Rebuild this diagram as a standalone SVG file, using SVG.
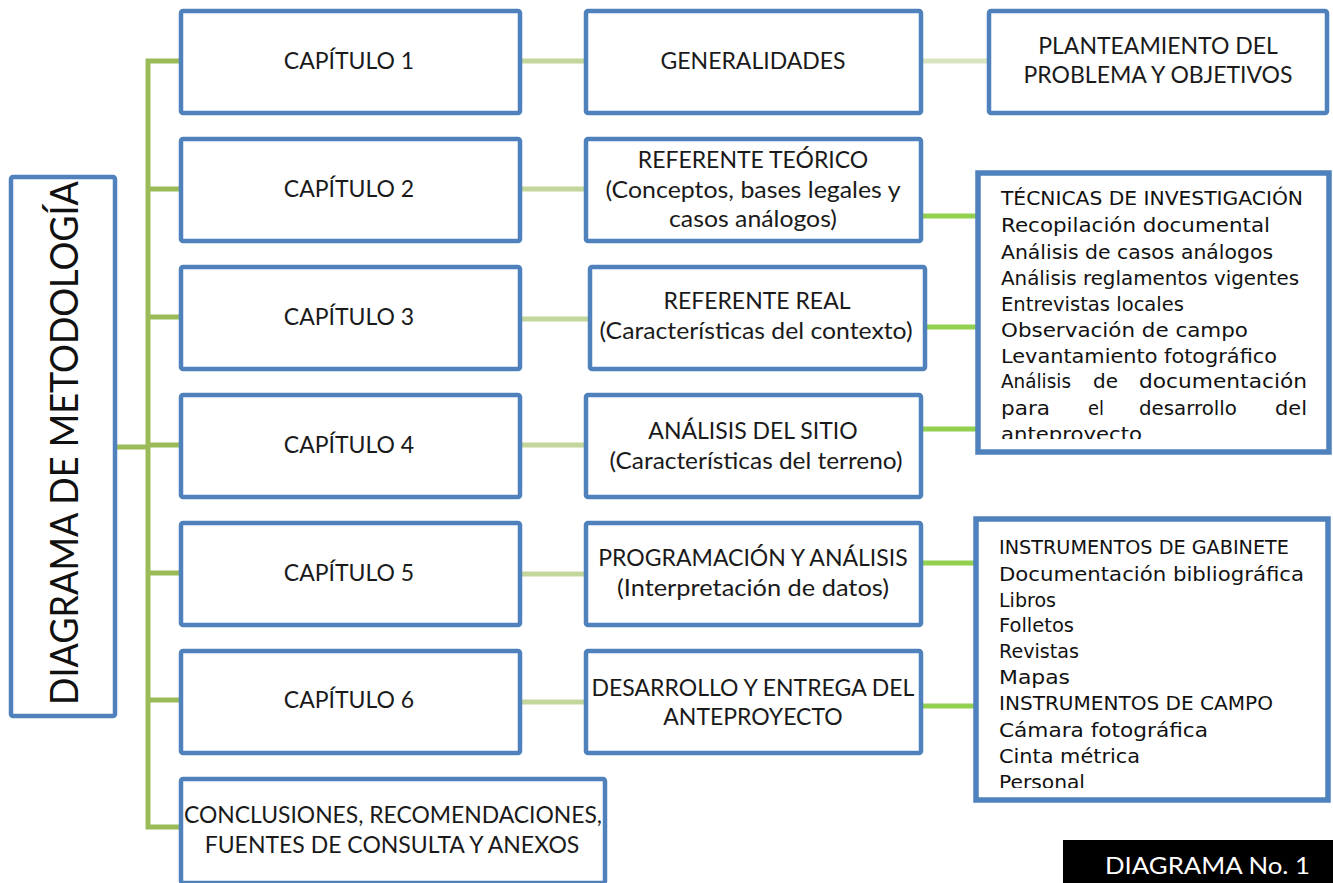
<svg xmlns="http://www.w3.org/2000/svg" width="1333" height="883" viewBox="0 0 1333 883">
<defs>
<style>
.box{fill:#fff;stroke:#4F81BD;stroke-width:4.5}
.tbox{fill:#fff;stroke:#4F81BD;stroke-width:5.5}
.t{font-family:Lato,"Liberation Sans",sans-serif;font-size:23px;fill:#1a1a1a;text-anchor:middle}
.g{font-family:"DejaVu Sans","Liberation Sans",sans-serif;font-size:19px;fill:#111}
.c{font-family:"DejaVu Sans","Liberation Sans",sans-serif;font-size:20px;fill:#111}
.spine{stroke:#9BBB59;stroke-width:5;fill:none}
.lg{stroke:#C3D69B;stroke-width:5}
.lg2{stroke:#D7E4BD;stroke-width:5}
.bg{stroke:#92D050;stroke-width:5}
</style>
<clipPath id="c1"><rect x="980" y="175" width="348" height="264"/></clipPath>
<clipPath id="c2"><rect x="978" y="521" width="348" height="267"/></clipPath>
</defs>
<rect width="1333" height="883" fill="#fff"/>
<g id="connectors">
<path class="spine" d="M180 61H148V827H180"/>
<line class="spine" x1="148" y1="189" x2="180" y2="189"/>
<line class="spine" x1="148" y1="317" x2="180" y2="317"/>
<line class="spine" x1="148" y1="445" x2="180" y2="445"/>
<line class="spine" x1="148" y1="573" x2="180" y2="573"/>
<line class="spine" x1="148" y1="700" x2="180" y2="700"/>
<line class="spine" x1="116" y1="447" x2="148" y2="447"/>
<line class="lg" x1="520" y1="61" x2="585" y2="61"/>
<line class="lg" x1="520" y1="189" x2="585" y2="189"/>
<line class="lg" x1="520" y1="319" x2="589" y2="319"/>
<line class="lg" x1="520" y1="445" x2="585" y2="445"/>
<line class="lg" x1="520" y1="574" x2="585" y2="574"/>
<line class="lg" x1="520" y1="702" x2="585" y2="702"/>
<line class="lg2" x1="922" y1="61" x2="988" y2="61"/>
<line class="bg" x1="921" y1="216" x2="978" y2="216"/>
<line class="bg" x1="925" y1="327" x2="978" y2="327"/>
<line class="bg" x1="921" y1="429" x2="978" y2="429"/>
<line class="bg" x1="921" y1="563" x2="976" y2="563"/>
<line class="bg" x1="919" y1="706" x2="976" y2="706"/>
</g>
<g id="main">
<rect class="box" x="11" y="177" width="104" height="539" rx="2"/>
<text transform="translate(78,443) rotate(-90)" style="font-family:Lato,'Liberation Sans',sans-serif;font-size:38px;fill:#111;text-anchor:middle" textLength="524" lengthAdjust="spacingAndGlyphs">DIAGRAMA  DE METODOLOGÍA</text>
</g>
<g id="cap1"><rect class="box" x="181" y="11" width="339" height="102" rx="2"/><text class="t" x="349" y="69">CAPÍTULO 1</text></g>
<g id="cap2"><rect class="box" x="181" y="139" width="339" height="102" rx="2"/><text class="t" x="349" y="197">CAPÍTULO 2</text></g>
<g id="cap3"><rect class="box" x="181" y="267" width="339" height="102" rx="2"/><text class="t" x="349" y="325">CAPÍTULO 3</text></g>
<g id="cap4"><rect class="box" x="181" y="395" width="339" height="102" rx="2"/><text class="t" x="349" y="453">CAPÍTULO 4</text></g>
<g id="cap5"><rect class="box" x="181" y="523" width="339" height="102" rx="2"/><text class="t" x="349" y="581">CAPÍTULO 5</text></g>
<g id="cap6"><rect class="box" x="181" y="651" width="339" height="102" rx="2"/><text class="t" x="349" y="708">CAPÍTULO 6</text></g>
<g id="conclusiones"><rect class="box" x="181" y="779" width="424" height="104" rx="2"/><text class="t" x="393" y="823" textLength="418" lengthAdjust="spacingAndGlyphs">CONCLUSIONES, RECOMENDACIONES,</text><text class="t" x="392" y="853">FUENTES DE CONSULTA Y ANEXOS</text></g>
<g id="generalidades"><rect class="box" x="586" y="11" width="335" height="102" rx="2"/><text class="t" x="753" y="69">GENERALIDADES</text></g>
<g id="teorico"><rect class="box" x="586" y="139" width="335" height="102" rx="2"/><text class="t" x="753" y="168">REFERENTE TEÓRICO</text><text class="t" x="753" y="198" textLength="295" lengthAdjust="spacingAndGlyphs">(Conceptos, bases legales y</text><text class="t" x="753" y="227" textLength="168" lengthAdjust="spacingAndGlyphs">casos análogos)</text></g>
<g id="real"><rect class="box" x="590" y="267" width="335" height="102" rx="2"/><text class="t" x="757" y="309">REFERENTE REAL</text><text class="t" x="756" y="339" textLength="313" lengthAdjust="spacingAndGlyphs">(Características del contexto)</text></g>
<g id="sitio"><rect class="box" x="586" y="395" width="335" height="102" rx="2"/><text class="t" x="753" y="439">ANÁLISIS DEL SITIO</text><text class="t" x="756" y="469" textLength="293" lengthAdjust="spacingAndGlyphs">(Características del terreno)</text></g>
<g id="programacion"><rect class="box" x="586" y="523" width="335" height="102" rx="2"/><text class="t" x="753" y="566">PROGRAMACIÓN Y ANÁLISIS</text><text class="t" x="753" y="596" textLength="272" lengthAdjust="spacingAndGlyphs">(Interpretación de datos)</text></g>
<g id="desarrollo"><rect class="box" x="586" y="651" width="335" height="102" rx="2"/><text class="t" x="753" y="696">DESARROLLO Y ENTREGA DEL</text><text class="t" x="753" y="725">ANTEPROYECTO</text></g>
<g id="planteamiento"><rect class="box" x="989" y="11" width="338" height="102" rx="2"/><text class="t" x="1158" y="54">PLANTEAMIENTO DEL</text><text class="t" x="1158" y="83">PROBLEMA Y OBJETIVOS</text></g>
<g id="tecnicas"><rect class="tbox" x="978" y="173" width="351" height="279"/>
<g clip-path="url(#c1)">
<text class="g" x="1001" y="205" textLength="302" lengthAdjust="spacingAndGlyphs">TÉCNICAS DE INVESTIGACIÓN</text>
<text class="g" x="1001" y="232" textLength="269" lengthAdjust="spacingAndGlyphs">Recopilación documental</text>
<text class="g" x="1001" y="259" textLength="272" lengthAdjust="spacingAndGlyphs">Análisis de casos análogos</text>
<text class="g" x="1001" y="285" textLength="298" lengthAdjust="spacingAndGlyphs">Análisis reglamentos vigentes</text>
<text class="g" x="1001" y="311" textLength="183" lengthAdjust="spacingAndGlyphs">Entrevistas locales</text>
<text class="g" x="1001" y="337" textLength="247" lengthAdjust="spacingAndGlyphs">Observación de campo</text>
<text class="g" x="1001" y="363" textLength="276" lengthAdjust="spacingAndGlyphs">Levantamiento fotográfico</text>
<text class="g" x="1001" y="388" textLength="70" lengthAdjust="spacingAndGlyphs">Análisis</text><text class="g" x="1093" y="388" textLength="25" lengthAdjust="spacingAndGlyphs">de</text><text class="g" x="1139" y="388" textLength="168" lengthAdjust="spacingAndGlyphs">documentación</text>
<text class="g" x="1001" y="415" textLength="49" lengthAdjust="spacingAndGlyphs">para</text><text class="g" x="1088" y="415" textLength="16" lengthAdjust="spacingAndGlyphs">el</text><text class="g" x="1139" y="415" textLength="98" lengthAdjust="spacingAndGlyphs">desarrollo</text><text class="g" x="1275" y="415" textLength="32" lengthAdjust="spacingAndGlyphs">del</text>
<text class="g" x="1001" y="441" textLength="141" lengthAdjust="spacingAndGlyphs">anteproyecto</text>
</g></g>
<g id="instrumentos"><rect class="tbox" x="976" y="519" width="352" height="281"/>
<g clip-path="url(#c2)">
<text class="c" x="999" y="554" textLength="290" lengthAdjust="spacingAndGlyphs">INSTRUMENTOS DE GABINETE</text>
<text class="c" x="999" y="581" textLength="305" lengthAdjust="spacingAndGlyphs">Documentación bibliográfica</text>
<text class="c" x="999" y="607" textLength="57" lengthAdjust="spacingAndGlyphs">Libros</text>
<text class="c" x="999" y="632" textLength="75" lengthAdjust="spacingAndGlyphs">Folletos</text>
<text class="c" x="999" y="658" textLength="80" lengthAdjust="spacingAndGlyphs">Revistas</text>
<text class="c" x="999" y="684" textLength="71" lengthAdjust="spacingAndGlyphs">Mapas</text>
<text class="c" x="999" y="710" textLength="274" lengthAdjust="spacingAndGlyphs">INSTRUMENTOS DE CAMPO</text>
<text class="c" x="999" y="737" textLength="209" lengthAdjust="spacingAndGlyphs">Cámara fotográfica</text>
<text class="c" x="999" y="763" textLength="141" lengthAdjust="spacingAndGlyphs">Cinta métrica</text>
<text class="c" x="999" y="789" textLength="86" lengthAdjust="spacingAndGlyphs">Personal</text>
</g></g>
<g id="label"><rect x="1063" y="840" width="270" height="43" fill="#000"/><text x="1105" y="874" style="font-family:Lato,'Liberation Sans',sans-serif;font-size:24px;fill:#fff" textLength="205" lengthAdjust="spacingAndGlyphs">DIAGRAMA No. 1</text></g>
</svg>
